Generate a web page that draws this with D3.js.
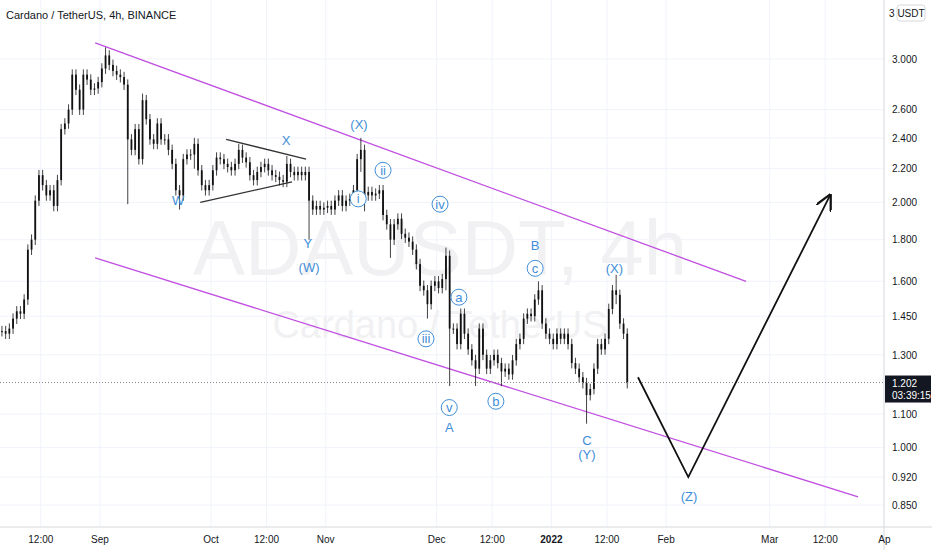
<!DOCTYPE html>
<html><head><meta charset="utf-8">
<script src="https://cdn.jsdelivr.net/npm/d3@7"></script>
<style>body{margin:0;background:#fff}svg{display:block;font-family:"Liberation Sans",Arial,sans-serif}</style>
</head><body><div id="chart"></div>
<script>
// daily closes from Aug 5 2021
var closes = [1.39,1.38,1.40,1.44,1.47,1.46,1.52,1.75,1.80,2.01,2.16,2.10,2.04,2.07,1.98,2.13,2.46,2.50,2.60,2.87,
  2.75,2.60,2.87,2.83,2.75,2.76,2.81,2.92,3.03,2.95,2.90,2.87,2.85,2.79,2.39,2.32,2.46,2.26,2.67,2.53,
  2.39,2.36,2.50,2.39,2.39,2.32,2.23,2.07,2.04,2.26,2.29,2.29,2.36,2.19,2.10,2.07,2.10,2.19,2.27,2.26,
  2.23,2.21,2.19,2.23,2.32,2.27,2.24,2.16,2.13,2.18,2.21,2.23,2.19,2.16,2.15,2.13,2.12,2.23,2.18,2.16,
  2.18,2.16,2.18,2.01,1.96,1.98,1.96,1.97,1.98,1.96,2.01,2.04,1.98,2.01,2.02,2.07,2.26,2.32,2.04,2.06,
  2.04,2.05,2.07,1.93,1.88,1.80,1.88,1.91,1.83,1.81,1.79,1.75,1.68,1.58,1.56,1.50,1.58,1.60,1.57,1.61,
  1.72,1.40,1.40,1.34,1.46,1.38,1.32,1.28,1.25,1.40,1.30,1.25,1.28,1.30,1.27,1.24,1.25,1.23,1.28,1.34,
  1.36,1.44,1.46,1.45,1.52,1.56,1.42,1.38,1.36,1.34,1.38,1.36,1.38,1.34,1.27,1.25,1.22,1.20,1.16,1.18,
  1.25,1.34,1.32,1.36,1.48,1.56,1.54,1.42,1.38,1.20];
// notable wicks [dayIndex, high, low]
var spikes = [[28,3.10,2.93],[34,2.80,1.99],[38,2.72,2.50],[48,2.10,1.96],[52,2.40,2.20],[64,2.36,2.20],
  [77,2.28,2.11],[83,2.17,1.80],[97,2.40,2.18],[98,2.30,1.95],[105,1.88,1.71],[115,1.58,1.44],
  [120,1.76,1.56],[121,1.72,1.19],[128,1.30,1.19],[135,1.28,1.19],[145,1.60,1.50],[158,1.20,1.07],
  [166,1.63,1.50],[169,1.40,1.19]];
var priceTicks = [3.0,2.6,2.4,2.2,2.0,1.8,1.6,1.45,1.3,1.1,1.0,0.92,0.85];
var timeTicks = [["2021-08-16","12:00"],["2021-09-01","Sep"],["2021-10-01","Oct"],["2021-10-16","12:00"],
  ["2021-11-01","Nov"],["2021-12-01","Dec"],["2021-12-16","12:00"],["2022-01-01","2022"],["2022-01-16","12:00"],
  ["2022-02-01","Feb"],["2022-03-01","Mar"],["2022-03-16","12:00"],["2022-04-01","Ap"]];
var waveLabels = [["W",48.1,2.01,0],["X",77.3,2.38,0],["Y",83.2,1.78,0],["(W)",83.5,1.665,0],["(X)",97,2.49,0],
  ["i",96.8,2.02,1],["ii",103.5,2.19,1],["iii",115.1,1.36,1],["iv",118.9,1.99,1],["v",121.4,1.12,1],
  ["A",121.4,1.06,0],["a",124,1.53,1],["b",134,1.14,1],["B",144.6,1.77,0],["c",144.6,1.66,1],
  ["(X)",166,1.66,0],["C",158.6,1.02,0],["(Y)",158.6,0.98,0],["(Z)",186.2,0.87,0]];
var channelUpper = [[25.7,3.14],[201.6,1.60]];
var channelLower = [[25.7,1.71],[231.9,0.87]];
var triUpper = [[61.1,2.39],[82.7,2.26]];
var triLower = [[54.1,2.00],[78.9,2.12]];
var projection = [[172.4,1.22],[186,0.92],[224.3,2.04]];
var lastPrice = 1.202;

var W = 932, H = 550, axisX = 884, axisY = 527;
var start = new Date(2021, 7, 5);
function dayDate(i){ return new Date(start.getTime() + i * 864e5); }

var x = d3.scaleTime().domain([new Date(2021,8,1), new Date(2022,3,1)]).range([100, 100 + 212 * 3.7]);
var y = d3.scaleLog().domain([3.544, 0.799]).range([0, axisY]);

var svg = d3.select("#chart").append("svg").attr("width", W).attr("height", H);

// grid
svg.selectAll(".hg").data(priceTicks).enter().append("line")
  .attr("x1", 0).attr("x2", axisX).attr("y1", d => y(d)).attr("y2", d => y(d))
  .attr("stroke", "#f0f3fa");
svg.selectAll(".vg").data(timeTicks).enter().append("line")
  .attr("x1", d => x(new Date(d[0]))).attr("x2", d => x(new Date(d[0])))
  .attr("y1", 0).attr("y2", axisY).attr("stroke", "#f0f3fa");

// watermark
svg.append("text").attr("x", 440).attr("y", 275).attr("text-anchor", "middle")
  .attr("font-size", 78).attr("fill", "#f1f1f3").text("ADAUSDT, 4h");
svg.append("text").attr("x", 440).attr("y", 338).attr("text-anchor", "middle")
  .attr("font-size", 38).attr("fill", "#f1f1f3").text("Cardano / TetherUS");

function seg(pts, color, w){
  svg.append("path").attr("d", d3.line().x(d => x(dayDate(d[0]))).y(d => y(d[1]))(pts))
    .attr("fill", "none").attr("stroke", color).attr("stroke-width", w);
}
seg(channelUpper, "#c04fe0", 1.3);
seg(channelLower, "#c04fe0", 1.3);
seg(triUpper, "#333", 1.3);
seg(triLower, "#333", 1.3);

// candles
var candles = closes.map(function(c, i){
  var o = i > 0 ? closes[i-1] : c;
  var hi = Math.max(o, c) * 1.015, lo = Math.min(o, c) * 0.985;
  spikes.forEach(function(s){ if (s[0] === i){ hi = Math.max(hi, s[1]); lo = Math.min(lo, s[2]); } });
  return {i: i, o: o, c: c, h: hi, l: lo};
});
var g = svg.append("g");
g.selectAll(".wick").data(candles).enter().append("line")
  .attr("x1", d => x(dayDate(d.i + 0.5))).attr("x2", d => x(dayDate(d.i + 0.5)))
  .attr("y1", d => y(d.h)).attr("y2", d => y(d.l)).attr("stroke", "#111").attr("stroke-width", 0.8);
g.selectAll(".body").data(candles).enter().append("rect")
  .attr("x", d => x(dayDate(d.i + 0.5)) - 0.9).attr("width", 1.8)
  .attr("y", d => y(Math.max(d.o, d.c))).attr("height", d => Math.max(1, Math.abs(y(d.o) - y(d.c))))
  .attr("fill", "#111");

svg.append("line").attr("x1", 0).attr("x2", axisX).attr("y1", y(lastPrice)).attr("y2", y(lastPrice))
  .attr("stroke", "#888").attr("stroke-dasharray", "1,2");

svg.append("defs").append("marker").attr("id", "arr").attr("viewBox", "0 0 10 10")
  .attr("refX", 9).attr("refY", 5).attr("markerWidth", 9).attr("markerHeight", 9).attr("orient", "auto")
  .append("path").attr("d", "M0,0L10,5L0,10").attr("fill", "none").attr("stroke", "#111").attr("stroke-width", 1.4);
svg.append("path").attr("d", d3.line().x(d => x(dayDate(d[0]))).y(d => y(d[1]))(projection))
  .attr("fill", "none").attr("stroke", "#111").attr("stroke-width", 1.8).attr("marker-end", "url(#arr)");

// wave labels
var blue = "#3f8ed8";
waveLabels.forEach(function(l){
  var lx = x(dayDate(l[1])), ly = y(l[2]);
  if (l[3]) {
    svg.append("circle").attr("cx", lx).attr("cy", ly).attr("r", 8)
      .attr("fill", "#fff").attr("stroke", blue).attr("stroke-width", 1);
  }
  svg.append("text").attr("x", lx).attr("y", ly + 4.5).attr("text-anchor", "middle")
    .attr("font-size", 13).attr("fill", blue).text(l[0]);
});

// axes
svg.append("rect").attr("x", axisX).attr("y", 0).attr("width", W - axisX).attr("height", H).attr("fill", "#fff");
svg.append("rect").attr("x", 0).attr("y", axisY).attr("width", W).attr("height", H - axisY).attr("fill", "#fff");
svg.append("line").attr("x1", axisX).attr("x2", axisX).attr("y1", 0).attr("y2", H).attr("stroke", "#d6d8dc");
svg.append("line").attr("x1", 0).attr("x2", W).attr("y1", axisY).attr("y2", axisY).attr("stroke", "#d6d8dc");

var ya = d3.axisRight(y).tickValues(priceTicks).tickFormat(d3.format(".3f")).tickSize(0).tickPadding(8);
var yg = svg.append("g").attr("transform", "translate(" + axisX + ",0)").call(ya);
yg.select(".domain").remove();
yg.selectAll("text").attr("font-size", 10).attr("fill", "#131722").attr("font-family", "Liberation Sans");

svg.selectAll(".tt").data(timeTicks).enter().append("text")
  .attr("x", d => x(new Date(d[0]))).attr("y", 543).attr("text-anchor", "middle")
  .attr("font-size", 10).attr("fill", "#131722").attr("font-weight", d => d[1] === "2022" ? "bold" : null)
  .text(d => d[1]);

svg.append("rect").attr("x", axisX + 1).attr("y", y(lastPrice) - 7).attr("width", 46).attr("height", 27).attr("fill", "#131722");
svg.append("text").attr("x", axisX + 8).attr("y", y(lastPrice) + 4).attr("font-size", 10).attr("fill", "#fff").text(d3.format(".3f")(lastPrice));
svg.append("text").attr("x", axisX + 8).attr("y", y(lastPrice) + 16).attr("font-size", 10).attr("fill", "#fff").text("03:39:15");

svg.append("text").attr("x", 889).attr("y", 17).attr("font-size", 10).attr("fill", "#131722").text("3");
svg.append("rect").attr("x", 897).attr("y", 5).attr("width", 28).attr("height", 16).attr("rx", 3)
  .attr("fill", "#fff").attr("stroke", "#d6d8dc");
svg.append("text").attr("x", 911).attr("y", 17).attr("text-anchor", "middle").attr("font-size", 10).attr("fill", "#131722").text("USDT");

svg.append("text").attr("x", 6).attr("y", 19).attr("font-size", 11).attr("fill", "#131722").text("Cardano / TetherUS, 4h, BINANCE");
</script></body></html>
